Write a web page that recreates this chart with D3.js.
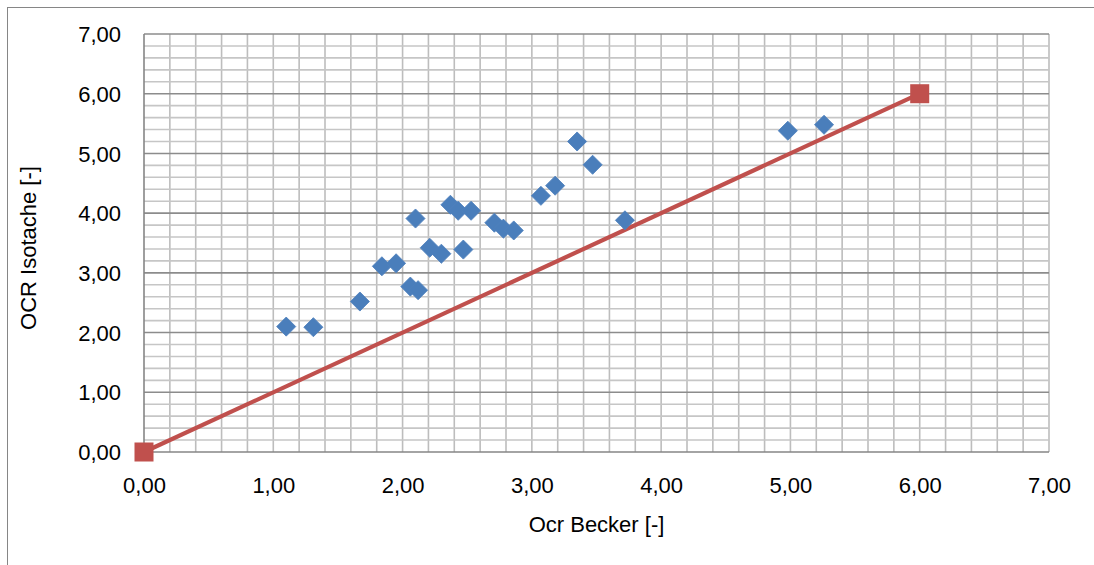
<!DOCTYPE html>
<html><head><meta charset="utf-8">
<script src="https://cdn.jsdelivr.net/npm/d3@7"></script>
<style>body{margin:0;background:#fff;}svg{display:block;font-family:"Liberation Sans",Arial,sans-serif;}</style>
</head><body>
<svg id="c" width="1094" height="565"></svg>
<script>
const ocrBecker   = [1.10,1.31,1.67,1.84,1.95,2.06,2.12,2.10,2.21,2.30,2.37,2.43,2.53,2.47,2.71,2.78,2.86,3.07,3.18,3.35,3.47,3.72,4.98,5.26];
const ocrIsotache = [2.10,2.09,2.52,3.11,3.16,2.77,2.71,3.91,3.42,3.32,4.14,4.04,4.04,3.39,3.84,3.74,3.71,4.29,4.46,5.20,4.81,3.88,5.38,5.48];
const refX = [0,6];
const refY = [0,6];
const tickValues = [0,1,2,3,4,5,6,7];
const xTitle = "Ocr Becker [-]";
const yTitle = "OCR Isotache [-]";

const svg = d3.select("#c");
const L=144,R=1049,T=34,B=452;
const x = d3.scaleLinear().domain([0,7]).range([L,R]);
const y = d3.scaleLinear().domain([0,7]).range([B,T]);
const fmt = d => d.toFixed(2).replace(".",",");

svg.append("rect").attr("x",7.5).attr("y",7.5).attr("width",1200).attr("height",700)
  .attr("fill","none").attr("stroke","#868686").attr("stroke-width",1);

const minor = d3.range(0,7.0001,0.2);
const g = svg.append("g");
g.selectAll("line.vx").data(minor.slice(1)).join("line")
  .attr("x1",d=>x(d)).attr("x2",d=>x(d)).attr("y1",T).attr("y2",B)
  .attr("stroke","#bdbdbd").attr("stroke-width",1.6);
g.selectAll("line.hy").data(minor.slice(1).filter(d=>Math.abs(d-Math.round(d))>1e-6)).join("line")
  .attr("x1",L).attr("x2",R).attr("y1",d=>y(d)).attr("y2",d=>y(d))
  .attr("stroke","#c6c6c6").attr("stroke-width",1.6);
g.selectAll("line.hmaj").data(tickValues.slice(1)).join("line")
  .attr("x1",L).attr("x2",R).attr("y1",d=>y(d)).attr("y2",d=>y(d))
  .attr("stroke","#8c8c8c").attr("stroke-width",1.6);

// axes
svg.append("line").attr("x1",L).attr("x2",L).attr("y1",T).attr("y2",B).attr("stroke","#868686").attr("stroke-width",1.6);
svg.append("line").attr("x1",L).attr("x2",R).attr("y1",B).attr("y2",B).attr("stroke","#868686").attr("stroke-width",1.6);

const xAxis = d3.axisBottom(x).tickValues(tickValues).tickFormat(fmt).tickSize(0).tickPadding(0);
const gx = svg.append("g").attr("transform",`translate(0,${B})`).call(xAxis);
gx.select(".domain").remove();
gx.selectAll("text").attr("font-size",22).attr("fill","#000").attr("dy",null).attr("y",41).attr("font-family","'Liberation Sans',Arial,sans-serif");

const yAxis = d3.axisLeft(y).tickValues(tickValues).tickFormat(fmt).tickSize(0).tickPadding(0);
const gy = svg.append("g").attr("transform",`translate(${L},0)`).call(yAxis);
gy.select(".domain").remove();
gy.selectAll("text").attr("font-size",22).attr("fill","#000").attr("x",-23).attr("dy","0.35em").attr("font-family","'Liberation Sans',Arial,sans-serif");

svg.append("text").attr("x",(L+R)/2).attr("y",532).attr("text-anchor","middle")
  .attr("font-size",22).text(xTitle);
svg.append("text").attr("transform",`translate(36,${(T+B)/2+5}) rotate(-90)`).attr("text-anchor","middle")
  .attr("font-size",22).text(yTitle);

// reference line
const ref = refX.map((v,i)=>[v,refY[i]]);
svg.append("path").datum(ref).attr("d",d3.line().x(d=>x(d[0])).y(d=>y(d[1])))
  .attr("fill","none").attr("stroke","#C0504D").attr("stroke-width",4.2);
svg.selectAll("rect.sq").data(ref).join("rect")
  .attr("x",d=>x(d[0])-9.5).attr("y",d=>y(d[1])-9.5).attr("width",19).attr("height",19)
  .attr("fill","#C0504D");

// data points
const pts = ocrBecker.map((v,i)=>[v,ocrIsotache[i]]);
const sym = d3.symbol().type(d3.symbolSquare).size(13.5*13.5);
svg.selectAll("path.pt").data(pts).join("path")
  .attr("d",sym)
  .attr("transform",d=>`translate(${x(d[0])},${y(d[1])}) rotate(45)`)
  .attr("fill","#4A7EBB").attr("stroke","#4F81BD").attr("stroke-width",0.8);
</script>
</body></html>
